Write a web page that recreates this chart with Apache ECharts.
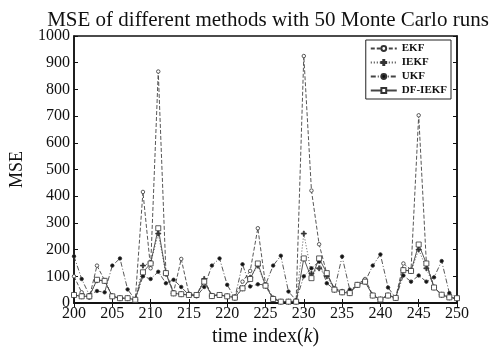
<!DOCTYPE html>
<html><head><meta charset="utf-8">
<script src="https://cdn.jsdelivr.net/npm/echarts@6/dist/echarts.min.js"></script>
<style>html,body{margin:0;padding:0;background:#fff}#c{width:495px;height:352px}</style>
</head><body><div id="c"></div>
<script>
const steps = [];
for (let k = 200; k <= 250; k++) steps.push(k);
const ekf   = [100,40,20,140,85,25,18,18,12,416,130,867,115,40,165,35,30,85,30,30,25,25,80,120,280,70,20,5,5,8,925,421,220,110,55,45,40,70,90,30,15,30,20,148,125,703,150,60,30,20,15];
const iekf  = [30,25,25,85,83,25,18,18,12,140,150,260,110,36,33,30,30,90,26,30,25,20,55,95,140,65,15,5,5,5,260,110,130,100,50,40,37,68,80,28,13,28,19,123,120,200,130,58,31,21,18];
const ukf   = [175,90,30,45,40,140,167,51,12,100,90,117,74,87,60,30,25,60,140,167,68,19,145,62,70,68,140,177,43,10,100,130,155,74,50,174,50,65,80,140,182,58,19,103,80,103,80,96,157,37,20];
const dfiekf= [30,25,25,87,83,25,18,18,12,115,148,280,112,36,33,30,30,80,26,30,25,20,55,90,148,65,15,5,5,5,167,93,167,112,50,40,37,68,80,28,13,28,19,123,120,219,148,58,31,21,18];
const yTicks = [0,100,200,300,400,500,600,700,800,900,1000];

const FONT = 'Liberation Serif';
function mk(name, data, type, symbol, size, fill) {
  return {
    name, type: 'line', data: data.map((v,i)=>[steps[i], v]),
    symbol, symbolSize: size,
    itemStyle: {color: fill, borderColor: '#333', borderWidth: 0.8},
    lineStyle: {color: '#444', width: 0.9, type: type},
    emphasis: {disabled: true}, animation: false
  };
}
const chart = echarts.init(document.getElementById('c'), null, {renderer: 'canvas'});
chart.setOption({
  backgroundColor: '#fff',
  animation: false,
  title: {text: 'MSE of different methods with 50 Monte Carlo runs', left: 263, top: 5, textAlign: 'center',
    textStyle: {fontFamily: FONT, fontSize: 21, fontWeight: 'normal', color: '#111'}},
  grid: {left: 72, right: 38, top: 36, bottom: 47, show: true, borderColor: '#111', borderWidth: 1.5, backgroundColor: '#fff'},
  legend: {
    right: 44, top: 40, orient: 'vertical', itemWidth: 26, itemHeight: 6, itemGap: 3,
    backgroundColor: '#fff', borderColor: '#222', borderWidth: 1, padding: [3,4,3,4],
    textStyle: {fontFamily: FONT, fontSize: 11, fontWeight: 'bold', color: '#111'},
    data: ['EKF','IEKF','UKF','DF-IEKF']
  },
  xAxis: [{
    type: 'value', min: 200, max: 250, interval: 5,
    name: '{n|time index(}{i|k}{n|)}', nameLocation: 'middle', nameGap: 24,
    nameTextStyle: {fontFamily: FONT, fontSize: 20, color: '#111',
      rich: {n: {fontFamily: FONT, fontSize: 20, color: '#111'}, i: {fontFamily: FONT, fontSize: 20, fontStyle: 'italic', color: '#111'}}},
    axisLine: {show: true, lineStyle: {color: '#111', width: 1.5}},
    axisTick: {inside: true, length: 4, lineStyle: {color: '#111'}},
    axisLabel: {fontFamily: FONT, fontSize: 16, color: '#111', margin: 3},
    splitLine: {show: false}
  },{
    type: 'value', min: 200, max: 250, interval: 5, position: 'top',
    axisLine: {show: true, lineStyle: {color: '#111', width: 1.5}},
    axisTick: {inside: true, length: 4, lineStyle: {color: '#111'}},
    axisLabel: {show: false}, splitLine: {show: false}
  }],
  yAxis: [{
    type: 'value', min: 0, max: 1000, interval: 100,
    name: 'MSE', nameLocation: 'middle', nameGap: 48, nameRotate: 90,
    nameTextStyle: {fontFamily: FONT, fontSize: 18, color: '#111'},
    axisLine: {show: true, lineStyle: {color: '#111', width: 1.5}},
    axisTick: {inside: true, length: 4, lineStyle: {color: '#111'}},
    axisLabel: {fontFamily: FONT, fontSize: 16, color: '#111', margin: 4, formatter: v => String(v)},
    splitLine: {show: false}
  },{
    type: 'value', min: 0, max: 1000, interval: 100, position: 'right',
    axisLine: {show: true, lineStyle: {color: '#111', width: 1.5}},
    axisTick: {inside: true, length: 4, lineStyle: {color: '#111'}},
    axisLabel: {show: false}, splitLine: {show: false}
  }],
  series: [
    mk('EKF', ekf, [4,2], 'circle', 3.5, '#fff'),
    mk('IEKF', iekf, [1,2], 'path://M4,0H6V4H10V6H6V10H4V6H0V4H4Z', 5, '#333'),
    mk('UKF', ukf, [5,2,1,2], 'circle', 3.5, '#111'),
    mk('DF-IEKF', dfiekf, 'solid', 'rect', 5, '#fff')
  ]
});
</script></body></html>
